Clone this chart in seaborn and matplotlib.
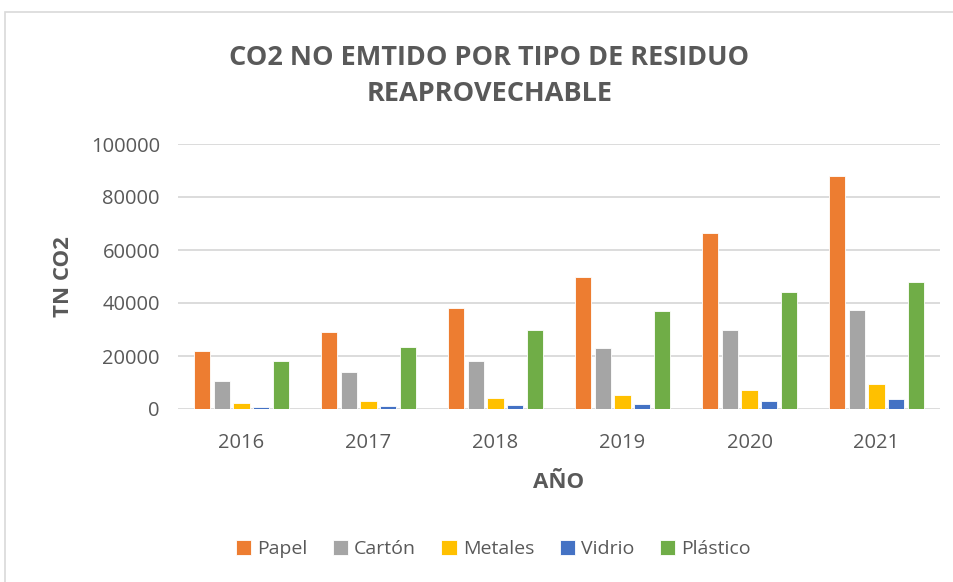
import matplotlib
matplotlib.use("Agg")
import matplotlib.pyplot as plt
from matplotlib.patches import Rectangle
import seaborn as sns
import pandas as pd

years = ["2016", "2017", "2018", "2019", "2020", "2021"]
papel = [21800, 29000, 38200, 49800, 66500, 87800]
carton = [10700, 13900, 18200, 23000, 29700, 37500]
metales = [2300, 2900, 4000, 5300, 7000, 9400]
vidrio = [900, 1200, 1600, 2000, 2900, 3900]
plastico = [18000, 23500, 30000, 36900, 44300, 47800]

series = ["Papel", "Cartón", "Metales", "Vidrio", "Plástico"]
colors = ["#ED7D31", "#A5A5A5", "#FFC000", "#4472C4", "#70AD47"]

df = pd.DataFrame({"Año": years * 5,
                   "Tipo": [s for s in series for _ in years],
                   "TN": papel + carton + metales + vidrio + plastico})

sns.set_theme(style="white")
plt.rcParams["font.family"] = ["Open Sans", "DejaVu Sans"]
txt = "#595959"
grid = "#D9D9D9"

fig = plt.figure(figsize=(9.54, 5.82), dpi=100)
fig.patches.append(Rectangle((5 / 954, -0.1), 1.1, 1 - 12 / 582 + 0.1,
                             transform=fig.transFigure, fill=False,
                             edgecolor="#D9D9D9", linewidth=1.2))
ax = fig.add_axes([178 / 954, 1 - 409 / 582, 762 / 954, 265 / 582])

sns.barplot(data=df, x="Año", y="TN", hue="Tipo", hue_order=series,
            palette=colors, width=0.77, gap=0.18, ax=ax,
            edgecolor="white", linewidth=0.6, saturation=1, legend=True)

ax.set_ylim(0, 100000)
ax.set_yticks(range(0, 100001, 20000))
ax.yaxis.grid(True, color=grid, linewidth=1.3)
ax.set_axisbelow(True)
for s in ax.spines.values():
    s.set_visible(False)
ax.tick_params(axis="both", length=0, colors=txt, labelsize=14.5)
ax.tick_params(axis="y", pad=13)
ax.tick_params(axis="x", pad=17)
ax.set_xlabel("AÑO", fontsize=16, fontweight="bold", color=txt, labelpad=14)
ax.set_ylabel("TN CO2", fontsize=16, fontweight="bold", color=txt, labelpad=12)

fig.text(0.513, 1 - 76 / 582, "CO2 NO EMTIDO POR TIPO DE RESIDUO\nREAPROVECHABLE",
         ha="center", va="center", fontsize=19.5, fontweight="bold", color=txt,
         linespacing=1.5)

handles, labels = ax.get_legend_handles_labels()
ax.legend_.remove()
fig.legend(handles, labels, loc="center", bbox_to_anchor=(0.517, 1 - 549 / 582),
           ncol=5, frameon=False, fontsize=14, labelcolor=txt,
           handlelength=0.8, handleheight=0.8, handletextpad=0.3,
           columnspacing=1.3)

fig.savefig("out.png", dpi=100)
